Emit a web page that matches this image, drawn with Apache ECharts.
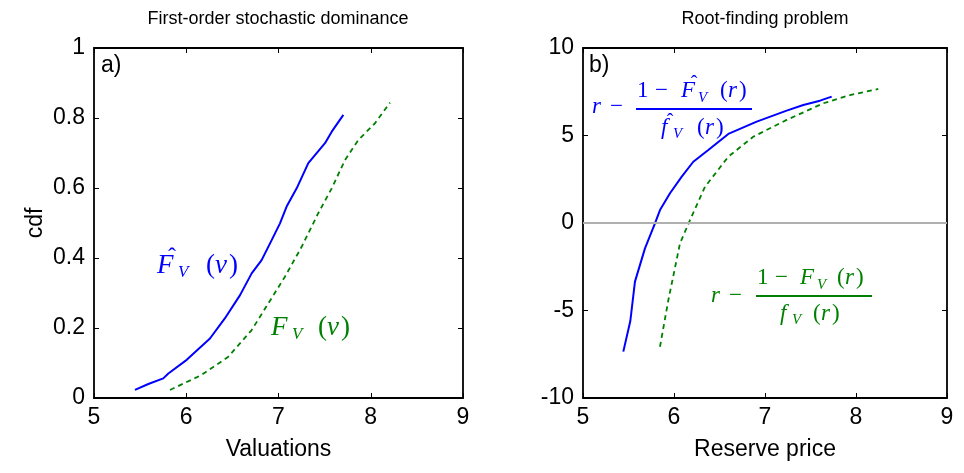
<!DOCTYPE html>
<html>
<head>
<meta charset="utf-8">
<script src="https://cdn.jsdelivr.net/npm/echarts@6/dist/echarts.min.js"></script>
<style>
  html, body { margin: 0; padding: 0; background: #fff; }
  #chart { width: 964px; height: 473px; }
</style>
</head>
<body>
<div id="chart"></div>
<script>
// panel a) cdf curves
const empCdfX = [5.444, 5.589, 5.751, 5.806, 6.005, 6.257, 6.420, 6.583, 6.709, 6.817, 6.926, 7.016, 7.088, 7.197, 7.323, 7.504, 7.577, 7.703];
const empCdfY = [0.023, 0.040, 0.056, 0.070, 0.109, 0.170, 0.228, 0.294, 0.356, 0.394, 0.451, 0.499, 0.547, 0.599, 0.671, 0.728, 0.761, 0.809];
const trueCdfX = [5.824, 6.167, 6.456, 6.709, 6.889, 7.071, 7.251, 7.431, 7.577, 7.721, 7.865, 8.046, 8.209];
const trueCdfY = [0.023, 0.066, 0.118, 0.194, 0.270, 0.347, 0.432, 0.528, 0.599, 0.680, 0.737, 0.785, 0.844];

// panel b) root-finding curves
const empRootX = [5.443, 5.52, 5.571, 5.681, 5.791, 5.846, 5.956, 6.085, 6.212, 6.377, 6.597, 6.909, 7.238, 7.421, 7.604, 7.733];
const empRootY = [-7.35, -5.6, -3.35, -1.45, -0.02, 0.74, 1.70, 2.65, 3.50, 4.17, 5.09, 5.79, 6.42, 6.74, 6.99, 7.22];
const trueRootX = [5.846, 5.938, 6.066, 6.176, 6.341, 6.597, 6.871, 7.238, 7.641, 7.934, 8.245];
const trueRootY = [-7.07, -4.40, -1.16, 0.17, 2.07, 3.79, 4.93, 5.89, 6.84, 7.31, 7.66];

const xTicks = [5, 6, 7, 8, 9];
const cdfTicks = [0, 0.2, 0.4, 0.6, 0.8, 1];
const rootTicks = [-10, -5, 0, 5, 10];

const titles = ['First-order stochastic dominance', 'Root-finding problem'];
const xNames = ['Valuations', 'Reserve price'];

const BLUE = '#0000ff';
const GREEN = '#008000';
const SANS = '"Liberation Sans", Arial, sans-serif';
const SERIF = '"Liberation Serif", "DejaVu Serif", serif';

const zip = (xs, ys) => xs.map((x, i) => [x, ys[i]]);

const chart = echarts.init(document.getElementById('chart'));

function frameAxis(kind, grid, pos, min, max, interval, labels, name) {
  const ax = {
    type: 'value', gridIndex: grid, position: pos, min: min, max: max, interval: interval,
    axisLine: { show: true, onZero: false, lineStyle: { color: '#000', width: 1.8 } },
    axisTick: { show: true, inside: true, length: 5, lineStyle: { color: '#000', width: 1 } },
    splitLine: { show: false },
    axisLabel: {
      show: labels, color: '#000', fontSize: 23, fontFamily: SANS, margin: kind === 'x' ? 8 : 9,
      formatter: v => String(Math.round(v * 10) / 10)
    }
  };
  if (name) {
    ax.name = name;
    ax.nameLocation = 'middle';
    ax.nameGap = kind === 'x' ? 40 : 47;
    ax.nameTextStyle = { color: '#000', fontSize: 23, fontFamily: SANS };
  }
  return ax;
}

function t(x, y, text, color, size, opts) {
  opts = opts || {};
  return {
    type: 'text', x: x, y: y, silent: true,
    style: {
      text: text, fill: color,
      font: (opts.italic ? 'italic ' : '') + size + 'px ' + (opts.sans ? SANS : SERIF),
      textAlign: opts.align || 'left', textVerticalAlign: 'middle'
    }
  };
}
function hline(x1, x2, y, color) {
  return { type: 'line', silent: true, shape: { x1: x1, y1: y, x2: x2, y2: y }, style: { stroke: color, lineWidth: 2 } };
}

const graphics = [
  // titles
  t(278, 19, titles[0], '#000', 18, { sans: true, align: 'center' }),
  t(765, 19, titles[1], '#000', 18, { sans: true, align: 'center' }),
  t(101, 66, 'a)', '#000', 23, { sans: true }),
  t(589, 66, 'b)', '#000', 23, { sans: true }),

  // F^_V(v)
  t(157, 266, 'F', BLUE, 27, { italic: true }),
  t(172, 258, 'ˆ', BLUE, 24, { align: 'center' }),
  t(178, 273, 'V', BLUE, 17, { italic: true }),
  t(206, 266, '(', BLUE, 27),
  t(215, 266, 'v', BLUE, 27, { italic: true }),
  t(229, 266, ')', BLUE, 27),

  // F_V(v)
  t(271, 328, 'F', GREEN, 27, { italic: true }),
  t(292, 335, 'V', GREEN, 17, { italic: true }),
  t(318, 328, '(', GREEN, 27),
  t(327, 328, 'v', GREEN, 27, { italic: true }),
  t(341, 328, ')', GREEN, 27),

  // r - (1 - F^_V(r)) / f^_V(r)
  t(592, 107, 'r', BLUE, 23, { italic: true }),
  t(610, 107, '−', BLUE, 23),
  hline(636, 752, 109, BLUE),
  t(637, 91, '1', BLUE, 23),
  t(655, 91, '−', BLUE, 23),
  t(681, 91, 'F', BLUE, 23, { italic: true }),
  t(694, 85, 'ˆ', BLUE, 20, { align: 'center' }),
  t(698, 98, 'V', BLUE, 15, { italic: true }),
  t(720, 91, '(', BLUE, 23),
  t(728, 91, 'r', BLUE, 23, { italic: true }),
  t(739, 91, ')', BLUE, 23),
  t(661, 128, 'f', BLUE, 23, { italic: true }),
  t(670, 123, 'ˆ', BLUE, 20, { align: 'center' }),
  t(673, 134, 'V', BLUE, 15, { italic: true }),
  t(697, 128, '(', BLUE, 23),
  t(705, 128, 'r', BLUE, 23, { italic: true }),
  t(716, 128, ')', BLUE, 23),

  // r - (1 - F_V(r)) / f_V(r)
  t(711, 296, 'r', GREEN, 23, { italic: true }),
  t(729, 296, '−', GREEN, 23),
  hline(756, 872, 296, GREEN),
  t(757, 278, '1', GREEN, 23),
  t(775, 278, '−', GREEN, 23),
  t(800, 278, 'F', GREEN, 23, { italic: true }),
  t(817, 285, 'V', GREEN, 15, { italic: true }),
  t(837, 278, '(', GREEN, 23),
  t(845, 278, 'r', GREEN, 23, { italic: true }),
  t(856, 278, ')', GREEN, 23),
  t(780, 314, 'f', GREEN, 23, { italic: true }),
  t(792, 320, 'V', GREEN, 15, { italic: true }),
  t(813, 314, '(', GREEN, 23),
  t(821, 314, 'r', GREEN, 23, { italic: true }),
  t(832, 314, ')', GREEN, 23)
];

chart.setOption({
  animation: false,
  backgroundColor: '#fff',
  grid: [
    { left: 94, top: 48, width: 369, height: 350 },
    { left: 583, top: 48, width: 364, height: 350 }
  ],
  xAxis: [
    frameAxis('x', 0, 'bottom', xTicks[0], xTicks[xTicks.length - 1], 1, true, xNames[0]),
    frameAxis('x', 0, 'top', xTicks[0], xTicks[xTicks.length - 1], 1, false),
    frameAxis('x', 1, 'bottom', xTicks[0], xTicks[xTicks.length - 1], 1, true, xNames[1]),
    frameAxis('x', 1, 'top', xTicks[0], xTicks[xTicks.length - 1], 1, false)
  ],
  yAxis: [
    frameAxis('y', 0, 'left', cdfTicks[0], cdfTicks[cdfTicks.length - 1], 0.2, true, 'cdf'),
    frameAxis('y', 0, 'right', cdfTicks[0], cdfTicks[cdfTicks.length - 1], 0.2, false),
    frameAxis('y', 1, 'left', rootTicks[0], rootTicks[rootTicks.length - 1], 5, true),
    frameAxis('y', 1, 'right', rootTicks[0], rootTicks[rootTicks.length - 1], 5, false)
  ],
  series: [
    {
      type: 'line', xAxisIndex: 0, yAxisIndex: 0, data: zip(empCdfX, empCdfY),
      showSymbol: false, lineStyle: { color: BLUE, width: 2 }
    },
    {
      type: 'line', xAxisIndex: 0, yAxisIndex: 0, data: zip(trueCdfX, trueCdfY),
      showSymbol: false, lineStyle: { color: GREEN, width: 1.8, type: [5, 4] }
    },
    {
      type: 'line', xAxisIndex: 2, yAxisIndex: 2, data: zip(empRootX, empRootY),
      showSymbol: false, lineStyle: { color: BLUE, width: 2 }, z: 3,
      markLine: {
        silent: true, symbol: 'none', label: { show: false },
        lineStyle: { color: '#b0b0b0', width: 2, type: 'solid' },
        data: [{ yAxis: 0 }]
      }
    },
    {
      type: 'line', xAxisIndex: 2, yAxisIndex: 2, data: zip(trueRootX, trueRootY),
      showSymbol: false, lineStyle: { color: GREEN, width: 1.8, type: [5, 4] }, z: 3
    }
  ],
  graphic: graphics
});
</script>
</body>
</html>
